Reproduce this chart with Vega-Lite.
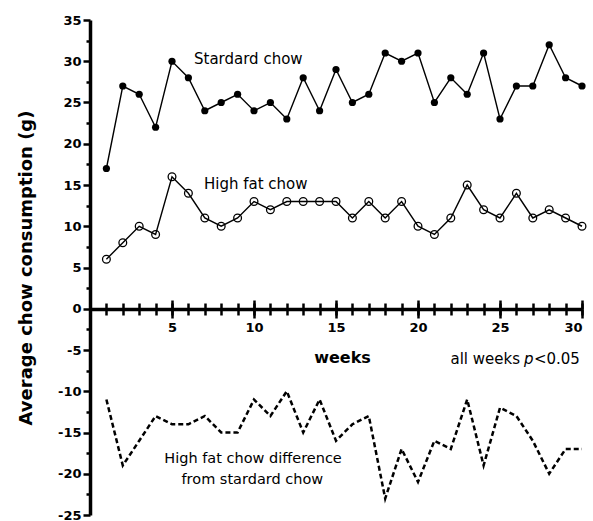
{
  "$schema": "https://vega.github.io/schema/vega-lite/v6.json",
  "width": 492,
  "height": 495,
  "autosize": "none",
  "padding": {"left": 90, "top": 20, "right": 11, "bottom": 6},
  "background": "white",
  "config": {
    "view": {"stroke": null},
    "font": "DejaVu Sans",
    "axis": {"grid": false, "domainColor": "black", "tickColor": "black", "labelColor": "black", "titleColor": "black", "labelFont": "DejaVu Sans", "titleFont": "DejaVu Sans", "labelFontWeight": "bold", "titleFontWeight": "bold"}
  },
  "data": {"values": [
    {"week": 1, "standard": 17, "highfat": 6, "difference": -11},
    {"week": 2, "standard": 27, "highfat": 8, "difference": -19},
    {"week": 3, "standard": 26, "highfat": 10, "difference": -16},
    {"week": 4, "standard": 22, "highfat": 9, "difference": -13},
    {"week": 5, "standard": 30, "highfat": 16, "difference": -14},
    {"week": 6, "standard": 28, "highfat": 14, "difference": -14},
    {"week": 7, "standard": 24, "highfat": 11, "difference": -13},
    {"week": 8, "standard": 25, "highfat": 10, "difference": -15},
    {"week": 9, "standard": 26, "highfat": 11, "difference": -15},
    {"week": 10, "standard": 24, "highfat": 13, "difference": -11},
    {"week": 11, "standard": 25, "highfat": 12, "difference": -13},
    {"week": 12, "standard": 23, "highfat": 13, "difference": -10},
    {"week": 13, "standard": 28, "highfat": 13, "difference": -15},
    {"week": 14, "standard": 24, "highfat": 13, "difference": -11},
    {"week": 15, "standard": 29, "highfat": 13, "difference": -16},
    {"week": 16, "standard": 25, "highfat": 11, "difference": -14},
    {"week": 17, "standard": 26, "highfat": 13, "difference": -13},
    {"week": 18, "standard": 31, "highfat": 11, "difference": -23},
    {"week": 19, "standard": 30, "highfat": 13, "difference": -17},
    {"week": 20, "standard": 31, "highfat": 10, "difference": -21},
    {"week": 21, "standard": 25, "highfat": 9, "difference": -16},
    {"week": 22, "standard": 28, "highfat": 11, "difference": -17},
    {"week": 23, "standard": 26, "highfat": 15, "difference": -11},
    {"week": 24, "standard": 31, "highfat": 12, "difference": -19},
    {"week": 25, "standard": 23, "highfat": 11, "difference": -12},
    {"week": 26, "standard": 27, "highfat": 14, "difference": -13},
    {"week": 27, "standard": 27, "highfat": 11, "difference": -16},
    {"week": 28, "standard": 32, "highfat": 12, "difference": -20},
    {"week": 29, "standard": 28, "highfat": 11, "difference": -17},
    {"week": 30, "standard": 27, "highfat": 10, "difference": -17}
  ]},
  "resolve": {"scale": {"x": "shared", "y": "shared"}, "axis": {"x": "independent", "y": "independent"}},
  "layer": [
    {
      "mark": {"type": "line", "color": "black", "strokeWidth": 1.4},
      "encoding": {
        "x": {"field": "week", "type": "quantitative", "scale": {"domain": [0, 30], "nice": false, "zero": false},
          "axis": {"orient": "bottom", "offset": -206, "values": [5, 10, 15, 20, 25, 30], "tickSize": 9, "tickWidth": 2.5, "domainWidth": 3.5, "labelFontSize": 13, "labelPadding": 3, "title": "weeks", "titleFontSize": 16, "titleX": 252, "titleY": 53, "titleBaseline": "alphabetic"}},
        "y": {"field": "standard", "type": "quantitative", "scale": {"domain": [-25, 35], "nice": false, "zero": false},
          "axis": {"orient": "left", "values": [-25, -20, -15, -10, -5, 0, 5, 10, 15, 20, 25, 30, 35], "labelExpr": "'' + datum.value", "tickSize": 7, "tickWidth": 2.5, "domainWidth": 3.5, "labelFontSize": 13, "labelPadding": 2, "title": "Average chow consumption (g)", "titleFontSize": 18, "titleX": -59, "titleBaseline": "alphabetic"}}
      }
    },
    {
      "mark": {"type": "point", "filled": true, "color": "black", "size": 52, "opacity": 1},
      "encoding": {
        "x": {"field": "week", "type": "quantitative",
          "axis": {"orient": "bottom", "offset": -206, "values": [1,2,3,4,5,6,7,8,9,10,11,12,13,14,15,16,17,18,19,20,21,22,23,24,25,26,27,28,29,30], "tickSize": 6, "tickWidth": 2.5, "domain": false, "labels": false, "title": null}},
        "y": {"field": "standard", "type": "quantitative",
          "axis": {"orient": "left", "values": [-22.5, -17.5, -12.5, -7.5, -2.5, 2.5, 7.5, 12.5, 17.5, 22.5, 27.5, 32.5], "tickSize": 4, "tickWidth": 2.5, "domain": false, "labels": false, "title": null}}
      }
    },
    {
      "mark": {"type": "line", "color": "black", "strokeWidth": 1.4},
      "encoding": {
        "x": {"field": "week", "type": "quantitative",
          "axis": {"orient": "top", "offset": -289, "values": [5, 10, 15, 20, 25, 30], "tickSize": 9, "tickWidth": 2.5, "domain": false, "labels": false, "title": null}},
        "y": {"field": "highfat", "type": "quantitative", "axis": null}
      }
    },
    {
      "mark": {"type": "point", "filled": false, "color": "black", "size": 60, "strokeWidth": 1.3, "opacity": 1},
      "encoding": {
        "x": {"field": "week", "type": "quantitative",
          "axis": {"orient": "top", "offset": -289, "values": [1,2,3,4,5,6,7,8,9,10,11,12,13,14,15,16,17,18,19,20,21,22,23,24,25,26,27,28,29,30], "tickSize": 6, "tickWidth": 2.5, "domain": false, "labels": false, "title": null}},
        "y": {"field": "highfat", "type": "quantitative", "axis": null}
      }
    },
    {
      "mark": {"type": "line", "color": "black", "strokeWidth": 2.5, "strokeDash": [5, 3]},
      "encoding": {
        "x": {"field": "week", "type": "quantitative", "axis": null},
        "y": {"field": "difference", "type": "quantitative", "axis": null}
      }
    },
    {
      "data": {"values": [
        {"label": "Stardard chow", "week": 6.34, "value": 30.27},
        {"label": "High fat chow", "week": 6.95, "value": 15.15},
        {"label": "<0.05", "week": 27.07, "value": -6.09}
      ]},
      "mark": {"type": "text", "align": "left", "baseline": "middle", "fontSize": 15, "font": "DejaVu Sans", "color": "black"},
      "encoding": {
        "x": {"field": "week", "type": "quantitative", "axis": null},
        "y": {"field": "value", "type": "quantitative", "axis": null},
        "text": {"field": "label"}
      }
    },
    {
      "data": {"values": [
        {"label": "p", "week": 26.46, "value": -6.09}
      ]},
      "mark": {"type": "text", "align": "left", "baseline": "middle", "fontSize": 15, "fontStyle": "italic", "font": "DejaVu Sans", "color": "black"},
      "encoding": {
        "x": {"field": "week", "type": "quantitative", "axis": null},
        "y": {"field": "value", "type": "quantitative", "axis": null},
        "text": {"field": "label"}
      }
    },
    {
      "data": {"values": [
        {"label": "all weeks", "week": 26.22, "value": -6.09}
      ]},
      "mark": {"type": "text", "align": "right", "baseline": "middle", "fontSize": 15, "font": "DejaVu Sans", "color": "black"},
      "encoding": {
        "x": {"field": "week", "type": "quantitative", "axis": null},
        "y": {"field": "value", "type": "quantitative", "axis": null},
        "text": {"field": "label"}
      }
    },
    {
      "data": {"values": [
        {"label": "High fat chow difference", "week": 9.94, "value": -18.2},
        {"label": "from stardard chow", "week": 9.9, "value": -20.76}
      ]},
      "mark": {"type": "text", "align": "center", "baseline": "middle", "fontSize": 14.5, "font": "DejaVu Sans", "color": "black"},
      "encoding": {
        "x": {"field": "week", "type": "quantitative", "axis": null},
        "y": {"field": "value", "type": "quantitative", "axis": null},
        "text": {"field": "label"}
      }
    }
  ]
}
